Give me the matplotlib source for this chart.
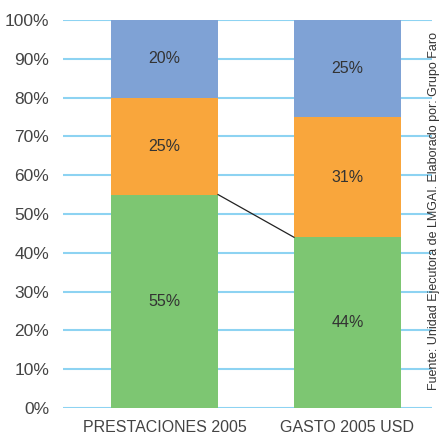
import matplotlib.pyplot as plt

# Data
categories = ['PRESTACIONES 2005', 'GASTO 2005 USD']
green = [55, 44]
orange = [25, 31]
blue = [20, 25]
colors = ['#7dc672', '#f9a63c', '#7fa2d5']
source = 'Fuente: Unidad Ejecutora de LMGAI. Elaborado por: Grupo Faro'

plt.rcParams['font.family'] = ['Liberation Sans', 'DejaVu Sans']

fig = plt.figure(figsize=(4.41, 4.37), dpi=100)
ax = fig.add_axes([0.1429, 0.0664, 0.8367, 0.8879])

x = [0, 1]
w = 0.585
bottom = [0, 0]
for vals, c in zip([green, orange, blue], colors):
    ax.bar(x, vals, width=w, bottom=bottom, color=c, zorder=2)
    for xi, v, b in zip(x, vals, bottom):
        ax.text(xi, b + v / 2, f'{v}%', ha='center', va='center',
                fontsize=11.5, color='#333333', zorder=3)
    bottom = [b + v for b, v in zip(bottom, vals)]

# connector between green tops
ax.plot([x[0] + w / 2, x[1] - w / 2], [green[0], green[1]],
        color='#222222', lw=0.9, zorder=3)

ax.set_xlim(-0.555, 1.462)
ax.set_ylim(0, 100)
ax.set_yticks(range(0, 101, 10))
ax.set_yticklabels([f'{v}%' for v in range(0, 101, 10)])
ax.set_xticks(x)
ax.set_xticklabels(categories)
ax.yaxis.grid(True, color='#8dd3f2', lw=1.5, zorder=0)
ax.set_axisbelow(True)
for s in ax.spines.values():
    s.set_visible(False)
ax.tick_params(axis='both', length=0, colors='#444444')
ax.tick_params(axis='y', pad=10, labelsize=12.5)
ax.tick_params(axis='x', pad=9, labelsize=11.5)

fig.text(0.983, 0.517, source, rotation=90, ha='center', va='center',
         fontsize=9, color='#333333')

fig.savefig('out.png', dpi=100)
